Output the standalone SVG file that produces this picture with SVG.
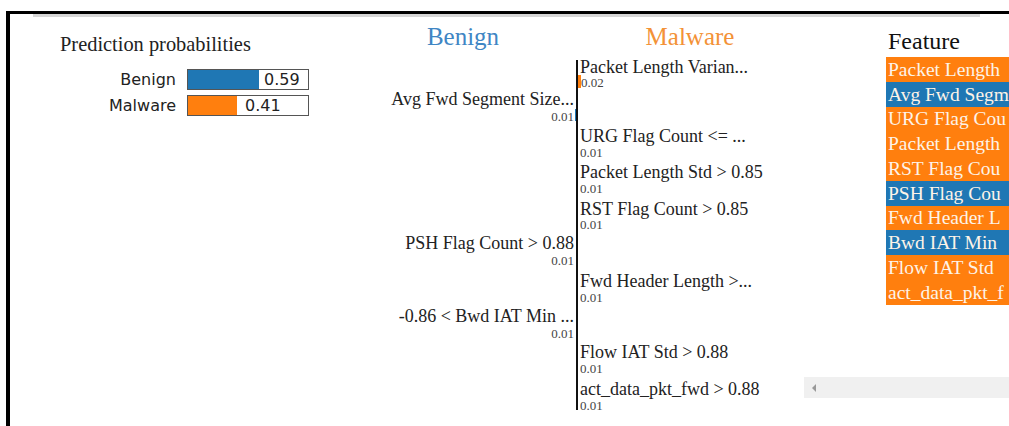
<svg xmlns="http://www.w3.org/2000/svg" width="1009" height="426" viewBox="0 0 1009 426">
<style>
.lbl{font-family:"Liberation Serif",serif;font-size:18px;fill:#222}
.val{font-family:"Liberation Serif",serif;font-size:13px;fill:#444}
.sans{font-family:"DejaVu Sans",Verdana,sans-serif;font-size:16px;fill:#222}
.ft{font-family:"Liberation Serif",serif;font-size:19.5px;fill:#fdf3e8}
.org{fill:#ff7f0e}
.blu{fill:#1f77b4}
</style>
<rect width="1009" height="426" fill="#fff"/>
<g id="frame">
<rect x="33" y="14" width="947" height="3" fill="#d6d6d6"/>
<rect x="6" y="11" width="1003" height="3" fill="#000"/>
<rect x="6" y="11" width="4" height="415" fill="#000"/>
</g>
<g id="prediction-probabilities">
<text x="60" y="51" font-family="Liberation Serif,serif" font-size="20.4" fill="#222">Prediction probabilities</text>
<text class="sans" x="176" y="85" text-anchor="end">Benign</text>
<rect x="187.5" y="69.5" width="121" height="20" fill="#fff" stroke="#555"/>
<rect x="188" y="70" width="71" height="19" class="blu"/>
<text class="sans" x="264" y="85" font-size="15">0.59</text>
<text class="sans" x="176" y="111" text-anchor="end">Malware</text>
<rect x="187.5" y="95.5" width="121" height="20" fill="#fff" stroke="#555"/>
<rect x="188" y="96" width="49" height="19" class="org"/>
<text class="sans" x="245" y="111" font-size="15">0.41</text>
</g>
<g id="explanation">
<text x="463" y="45" text-anchor="middle" font-family="Liberation Serif,serif" font-size="25" fill="#3f86c4">Benign</text>
<text x="690" y="45" text-anchor="middle" font-family="Liberation Serif,serif" font-size="25" fill="#f39237">Malware</text>
<rect x="576" y="60" width="2" height="350" fill="#111"/>
<g id="f1"><rect x="578" y="75" width="3" height="13" class="org"/><text class="lbl" x="580" y="73">Packet Length Varian...</text><text class="val" x="581" y="87">0.02</text></g>
<g id="f2"><rect x="575" y="109" width="1" height="12" class="blu"/><text class="lbl" x="574" y="105" text-anchor="end">Avg Fwd Segment Size...</text><text class="val" x="574" y="121" text-anchor="end">0.01</text></g>
<g id="f3"><text class="lbl" x="580" y="142">URG Flag Count &lt;= ...</text><text class="val" x="580" y="157">0.01</text></g>
<g id="f4"><text class="lbl" x="580" y="178">Packet Length Std &gt; 0.85</text><text class="val" x="580" y="193">0.01</text></g>
<g id="f5"><text class="lbl" x="580" y="215">RST Flag Count &gt; 0.85</text><text class="val" x="580" y="229">0.01</text></g>
<g id="f6"><text class="lbl" x="574" y="249" text-anchor="end">PSH Flag Count &gt; 0.88</text><text class="val" x="574" y="265" text-anchor="end">0.01</text></g>
<g id="f7"><text class="lbl" x="580" y="287">Fwd Header Length &gt;...</text><text class="val" x="580" y="302">0.01</text></g>
<g id="f8"><text class="lbl" x="574" y="322" text-anchor="end">-0.86 &lt; Bwd IAT Min ...</text><text class="val" x="574" y="338" text-anchor="end">0.01</text></g>
<g id="f9"><text class="lbl" x="580" y="358">Flow IAT Std &gt; 0.88</text><text class="val" x="580" y="373">0.01</text></g>
<g id="f10"><text class="lbl" x="580" y="395">act_data_pkt_fwd &gt; 0.88</text><text class="val" x="580" y="410">0.01</text></g>
</g>
<g id="feature-table">
<text x="888" y="49" font-family="Liberation Serif,serif" font-size="24" fill="#111">Feature</text>
<rect x="886" y="57" width="123" height="25" class="org"/>
<rect x="886" y="82" width="123" height="25" class="blu"/>
<rect x="886" y="107" width="123" height="24" class="org"/>
<rect x="886" y="131" width="123" height="25" class="org"/>
<rect x="886" y="156" width="123" height="25" class="org"/>
<rect x="886" y="181" width="123" height="25" class="blu"/>
<rect x="886" y="206" width="123" height="24" class="org"/>
<rect x="886" y="230" width="123" height="25" class="blu"/>
<rect x="886" y="255" width="123" height="25" class="org"/>
<rect x="886" y="280" width="123" height="25" class="org"/>
<text class="ft" x="888" y="76">Packet Length</text>
<text class="ft" x="888" y="101">Avg Fwd Segm</text>
<text class="ft" x="888" y="125">URG Flag Cou</text>
<text class="ft" x="888" y="150">Packet Length</text>
<text class="ft" x="888" y="175">RST Flag Cou</text>
<text class="ft" x="888" y="200">PSH Flag Cou</text>
<text class="ft" x="888" y="224">Fwd Header L</text>
<text class="ft" x="888" y="249">Bwd IAT Min</text>
<text class="ft" x="888" y="274">Flow IAT Std</text>
<text class="ft" x="888" y="299">act_data_pkt_f</text>
</g>
<g id="scrollbar">
<rect x="804" y="377" width="205" height="21" fill="#f0f0f0"/>
<path d="M816 384 L812 388 L816 392 Z" fill="#999"/>
</g>
</svg>
